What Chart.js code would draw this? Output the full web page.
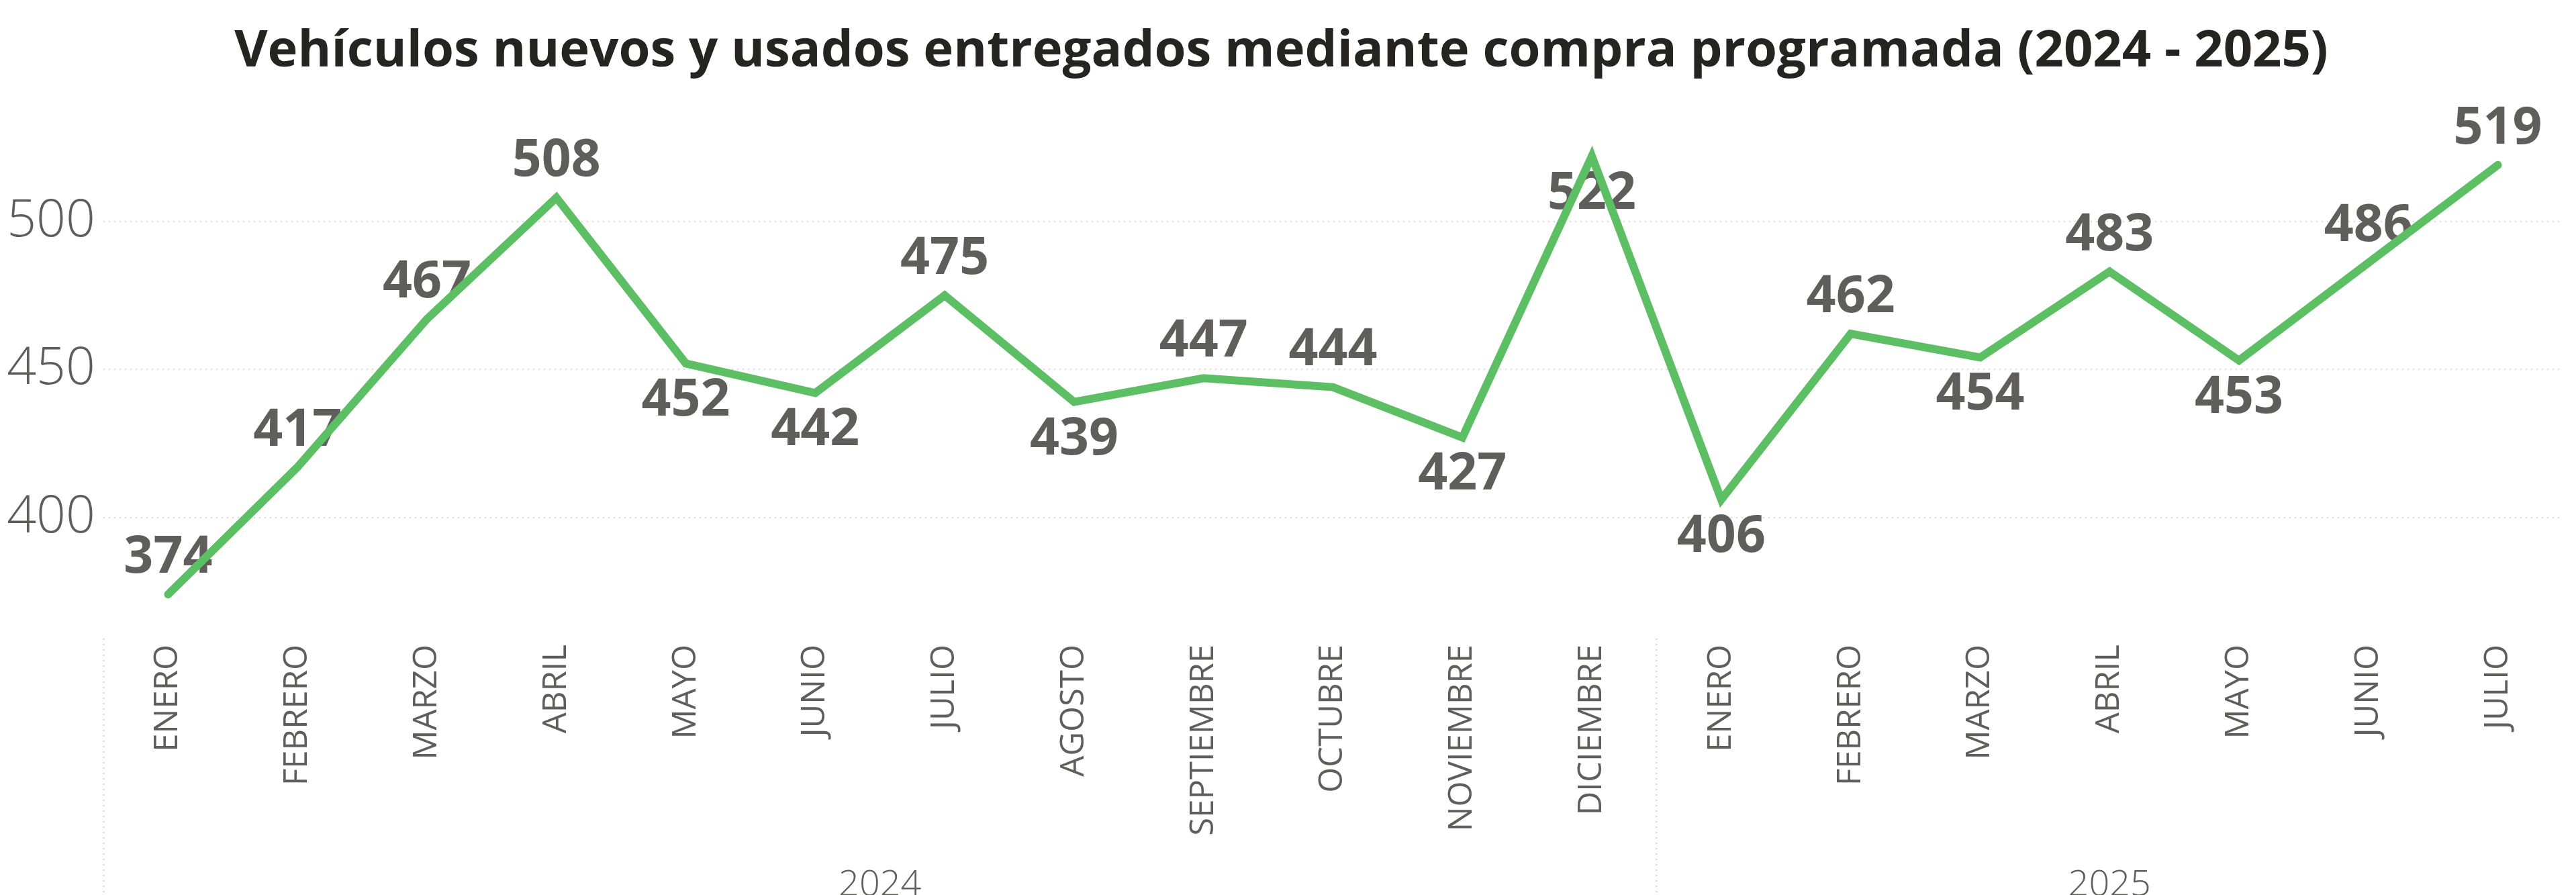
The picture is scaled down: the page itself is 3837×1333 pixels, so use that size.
<!DOCTYPE html>
<html lang="es">
<head>
<meta charset="utf-8">
<title>Vehículos nuevos y usados entregados mediante compra programada</title>
<script src="https://cdn.jsdelivr.net/npm/chart.js@4.4.1/dist/chart.umd.min.js"></script>
<style>
  html, body { margin: 0; padding: 0; background: #fff; }
  #wrap { width: 3837px; height: 1333px; position: relative; }
</style>
</head>
<body>
<div id="wrap"><canvas id="chart"></canvas></div>
<script>
// Data
const months = ['ENERO', 'FEBRERO', 'MARZO', 'ABRIL', 'MAYO', 'JUNIO', 'JULIO', 'AGOSTO',
  'SEPTIEMBRE', 'OCTUBRE', 'NOVIEMBRE', 'DICIEMBRE',
  'ENERO', 'FEBRERO', 'MARZO', 'ABRIL', 'MAYO', 'JUNIO', 'JULIO'];
const years = ['2024', '2025'];
const monthsPerYear = [12, 7];
const values = [374, 417, 467, 508, 452, 442, 475, 439, 447, 444, 427, 522,
  406, 462, 454, 483, 453, 486, 519];
const yTicks = [400, 450, 500];

// which side of the point each data label sits on (true = above)
const labelAbove = [true, true, true, true, false, false, true, false, true, true, false, false,
  false, true, false, true, false, true, true];

const GREY = '#605E5C';
const BOLD = "'Segoe UI', 'Open Sans', 'Noto Sans', sans-serif";
const LIGHT = "'Segoe UI Light', 'Open Sans', 'Noto Sans', sans-serif";

const extras = {
  id: 'extras',
  beforeDatasetsDraw(chart) {
    const { ctx } = chart;
    const meta = chart.getDatasetMeta(0);
    ctx.save();
    ctx.font = `700 77px ${BOLD}`;
    ctx.fillStyle = GREY;
    ctx.textAlign = 'center';
    ctx.textBaseline = 'middle';
    meta.data.forEach((pt, i) => {
      const dy = labelAbove[i] ? -54 : 56;
      ctx.fillText(String(values[i]), pt.x, pt.y + dy);
    });
    ctx.restore();
  },
  afterDraw(chart) {
    const { ctx, chartArea, scales: { x } } = chart;
    const step = x.getPixelForValue(1) - x.getPixelForValue(0);
    const bounds = [x.getPixelForValue(0) - step / 2];
    let idx = 0;
    monthsPerYear.forEach(n => {
      idx += n;
      bounds.push(x.getPixelForValue(idx - 1) + step / 2);
    });

    ctx.save();
    // dotted separators between year groups
    ctx.strokeStyle = '#cfcfcf';
    ctx.lineWidth = 2;
    ctx.setLineDash([2, 6]);
    bounds.slice(0, -1).forEach(bx => {
      ctx.beginPath();
      ctx.moveTo(Math.round(bx) + 0.5, chartArea.bottom + 4);
      ctx.lineTo(Math.round(bx) + 0.5, chart.height);
      ctx.stroke();
    });
    ctx.setLineDash([]);

    // year labels
    ctx.font = `300 54px ${LIGHT}`;
    ctx.fillStyle = GREY;
    ctx.textAlign = 'center';
    ctx.textBaseline = 'alphabetic';
    years.forEach((yr, k) => {
      ctx.fillText(yr, (bounds[k] + bounds[k + 1]) / 2, 1334);
    });
    ctx.restore();
  }
};

new Chart(document.getElementById('chart'), {
  type: 'line',
  data: {
    labels: months,
    datasets: [{
      data: values,
      borderColor: '#5CBF63',
      borderWidth: 12,
      borderCapStyle: 'round',
      borderJoinStyle: 'miter',
      pointRadius: 0,
      tension: 0,
      fill: false,
    }],
  },
  options: {
    responsive: true,
    maintainAspectRatio: false,
    animation: false,
    layout: { padding: { left: 0, right: 20, top: 0, bottom: 0 } },
    scales: {
      x: {
        offset: true,
        grid: { display: false, drawTicks: false },
        border: { display: false },
        ticks: {
          autoSkip: false,
          minRotation: 90,
          maxRotation: 90,
          padding: 13,
          color: GREY,
          font: { family: BOLD, size: 49, weight: 'normal' },
        },
        afterFit(scale) { scale.height = 386; },
      },
      y: {
        min: 360,
        max: 540,
        afterBuildTicks(axis) { axis.ticks = yTicks.map(v => ({ value: v })); },
        afterFit(scale) { scale.width = 154; },
        grid: { color: '#d9d9d9', lineWidth: 2, drawTicks: false },
        border: { display: false, dash: [2, 6] },
        ticks: {
          padding: 12,
          color: GREY,
          font: { family: LIGHT, size: 77, weight: 300 },
        },
      },
    },
    plugins: {
      legend: { display: false },
      tooltip: { enabled: false },
      title: {
        display: true,
        text: 'Vehículos nuevos y usados entregados mediante compra programada (2024 - 2025)',
        color: '#252423',
        font: { family: BOLD, size: 76, weight: 'bold' },
        padding: { top: 32, bottom: 30 },
      },
    },
  },
  plugins: [extras],
});
</script>
</body>
</html>
